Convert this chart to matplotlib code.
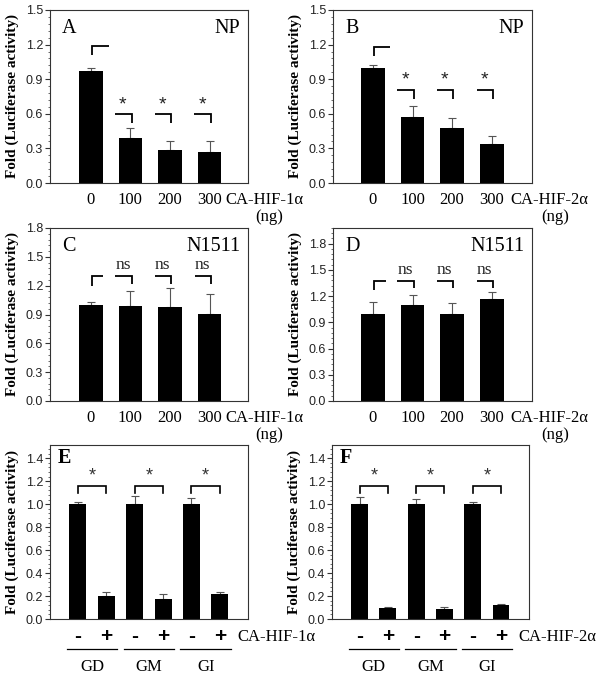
import matplotlib
matplotlib.use('Agg')
import matplotlib.pyplot as plt
from matplotlib.ticker import MultipleLocator, AutoMinorLocator, FormatStrFormatter
from matplotlib.transforms import offset_copy
import numpy as np

# ---------------- data ----------------
doses = ['0', '100', '200', '300']
a_vals = [0.97, 0.39, 0.29, 0.27]
a_err = [0.03, 0.09, 0.07, 0.09]
b_vals = [1.00, 0.57, 0.48, 0.34]
b_err = [0.025, 0.095, 0.085, 0.07]
c_vals = [1.00, 0.99, 0.98, 0.91]
c_err = [0.025, 0.15, 0.20, 0.20]
d_vals = [1.00, 1.10, 1.00, 1.17]
d_err = [0.135, 0.115, 0.125, 0.08]

groups = ['GD', 'GM', 'GI']
signs = ['-', '+', '-', '+', '-', '+']
e_vals = [1.00, 0.20, 1.00, 0.17, 1.00, 0.22]
e_err = [0.017, 0.035, 0.067, 0.05, 0.05, 0.012]
f_vals = [1.00, 0.10, 1.00, 0.09, 1.00, 0.125]
f_err = [0.064, 0.007, 0.045, 0.017, 0.023, 0.004]

# significance marks
a_marks = ['', '*', '*', '*']
b_marks = ['', '*', '*', '*']
c_marks = ['', 'ns', 'ns', 'ns']
d_marks = ['', 'ns', 'ns', 'ns']
ef_marks = ['*', '*', '*']

SERIF = ['Liberation Serif', 'DejaVu Serif']
SANS = ['Liberation Sans', 'DejaVu Sans']

W, H = 602, 678
fig = plt.figure(figsize=(W / 100, H / 100), dpi=100)


def px_axes(left, top, right, bottom):
    return fig.add_axes([left / W, 1 - bottom / H, (right - left) / W, (bottom - top) / H])


def style_axes(ax, ylim, major, ndiv=5):
    ax.set_ylim(0, ylim)
    ax.yaxis.set_major_locator(MultipleLocator(major))
    ax.yaxis.set_minor_locator(AutoMinorLocator(ndiv))
    ax.yaxis.set_major_formatter(FormatStrFormatter('%.1f'))
    ax.set_xticks([])
    for s in ax.spines.values():
        s.set_color('#333333')
        s.set_linewidth(0.8)
    ax.tick_params(axis='y', which='major', direction='out', length=3.5, width=0.8,
                   color='#333333', labelsize=9, pad=1.5, labelcolor='#222222')
    ax.tick_params(axis='y', which='minor', direction='out', length=1.8, width=0.6,
                   color='#555555')
    for lab in ax.get_yticklabels():
        lab.set_family(SANS)
    ax.set_ylabel('Fold (Luciferase activity)', fontsize=11, fontweight='bold',
                  family=SERIF)
    ax.yaxis.set_label_coords(-0.155, 0.5)


def draw_bars(ax, x, vals, err):
    ax.bar(x, vals, width=0.6, color='black', zorder=2)
    ax.errorbar(x, vals, yerr=[np.zeros(len(vals)), err], fmt='none', ecolor='#555555',
                elinewidth=0.8, capsize=2.6, capthick=0.8, zorder=1)


def half_brackets(ax, x, marks, y0, drop0, y1, drop1, first_len, others_len, mark_y,
                  mark_size, mark_family):
    lw = 1.3
    # first bar: left tick + line to the right
    ax.plot([x[0] + 0.02, x[0] + 0.02, x[0] + 0.02 + first_len],
            [y0 - drop0, y0, y0], color='black', lw=lw, solid_capstyle='butt',
            solid_joinstyle='miter', clip_on=False)
    for xi, m in zip(x[1:], marks[1:]):
        ax.plot([xi + 0.03 - others_len, xi + 0.03, xi + 0.03],
                [y1, y1, y1 - drop1], color='black', lw=lw, solid_capstyle='butt',
                solid_joinstyle='miter', clip_on=False)
        ax.text(xi + 0.03 - others_len / 2 - 0.01, mark_y, m, ha='center', va='center',
                fontsize=mark_size, family=mark_family, color='#222222')


def dose_labels(ax, x, label, name_dx, ng_dx):
    for xi, t in zip(x, doses):
        ax.annotate(t, xy=(xi, 0), xycoords=('data', 'axes fraction'),
                    xytext=(0, -17), textcoords='offset pixels', ha='center',
                    va='center', fontsize=12, family=SERIF, annotation_clip=False)
    ax.annotate(label, xy=(x[-1], 0), xycoords=('data', 'axes fraction'),
                xytext=(name_dx, -17), textcoords='offset pixels', ha='left',
                va='center', fontsize=12, family=SERIF, annotation_clip=False)
    ax.annotate('(ng)', xy=(x[-1], 0), xycoords=('data', 'axes fraction'),
                xytext=(ng_dx, -34), textcoords='offset pixels', ha='center',
                va='center', fontsize=12, family=SERIF, annotation_clip=False)


def panel_text(ax, letter, cell):
    ax.text(0.06, 0.95, letter, transform=ax.transAxes, ha='left', va='top',
            fontsize=14.5, family=SERIF)
    ax.text(0.962, 0.95, cell, transform=ax.transAxes, ha='right', va='top',
            fontsize=14.5, family=SERIF)


x4 = np.arange(len(doses))

# ---- Panel A ----
axA = px_axes(50, 10, 248, 183)
axA.set_xlim(-1.03, 3.97)
draw_bars(axA, x4, a_vals, a_err)
style_axes(axA, 1.5, 0.3)
half_brackets(axA, x4, a_marks, 1.19, 0.08, 0.60, 0.08, 0.44, 0.42, 0.68, 14, SANS)
panel_text(axA, 'A', 'NP')
dose_labels(axA, x4, 'CA-HIF-1\u03b1', 16, 60)

# ---- Panel B ----
axB = px_axes(333, 10, 532, 183)
axB.set_xlim(-1.01, 4.02)
draw_bars(axB, x4, b_vals, b_err)
style_axes(axB, 1.5, 0.3)
half_brackets(axB, x4, b_marks, 1.18, 0.08, 0.81, 0.08, 0.42, 0.41, 0.89, 14, SANS)
panel_text(axB, 'B', 'NP')
dose_labels(axB, x4, 'CA-HIF-2\u03b1', 19, 64)

# ---- Panel C ----
axC = px_axes(50, 228, 248, 401)
axC.set_xlim(-1.03, 3.97)
draw_bars(axC, x4, c_vals, c_err)
style_axes(axC, 1.8, 0.3)
half_brackets(axC, x4, c_marks, 1.30, 0.10, 1.30, 0.08, 0.30, 0.41, 1.41, 12.5, SERIF)
panel_text(axC, 'C', 'N1511')
dose_labels(axC, x4, 'CA-HIF-1\u03b1', 16, 60)

# ---- Panel D ----
axD = px_axes(333, 228, 532, 401)
axD.set_xlim(-1.01, 4.02)
draw_bars(axD, x4, d_vals, d_err)
style_axes(axD, 1.98, 0.3)
half_brackets(axD, x4, d_marks, 1.37, 0.095, 1.37, 0.08, 0.30, 0.41, 1.50, 12.5, SERIF)
panel_text(axD, 'D', 'N1511')
dose_labels(axD, x4, 'CA-HIF-2\u03b1', 19, 64)


# ---- Panels E, F ----
def group_panel(ax, vals, err, label, letter, name_dx):
    x6 = np.arange(len(vals))
    ax.set_xlim(-0.98, 5.99)
    draw_bars(ax, x6, vals, err)
    style_axes(ax, 1.515, 0.2)
    tr = offset_copy(ax.get_xaxis_transform(), fig=fig, x=0, y=-30, units='dots')
    for g in range(len(groups)):
        xl, xr = x6[2 * g], x6[2 * g + 1]
        yb = 1.16
        ax.plot([xl, xl, xr, xr], [yb - 0.06, yb, yb, yb - 0.06], color='black', lw=1.2,
                solid_joinstyle='miter', clip_on=False)
        ax.text((xl + xr) / 2, yb + 0.085, ef_marks[g], ha='center', va='center',
                fontsize=13, family=SANS, color='#333333')
        # underline and group name
        ax.plot([xl - 0.39, xr + 0.39], [0, 0], transform=tr, color='black', lw=0.9,
                clip_on=False)
        ax.annotate(groups[g], xy=((xl + xr) / 2, 0), xycoords=('data', 'axes fraction'),
                    xytext=(0, -48), textcoords='offset pixels', ha='center',
                    va='center', fontsize=12, family=SERIF, annotation_clip=False)
    for xi, s in zip(x6, signs):
        ax.annotate(s, xy=(xi, 0), xycoords=('data', 'axes fraction'),
                    xytext=(0, -18), textcoords='offset pixels', ha='center',
                    va='center', fontsize=15, fontweight='bold', family=SANS,
                    annotation_clip=False)
    ax.annotate(label, xy=(x6[-1], 0), xycoords=('data', 'axes fraction'),
                xytext=(name_dx, -18), textcoords='offset pixels', ha='left',
                va='center', fontsize=12, family=SERIF, annotation_clip=False)
    ax.text(0.04, 0.98, letter, transform=ax.transAxes, ha='left', va='top',
            fontsize=14.5, family=SERIF, fontweight='bold')


axE = px_axes(50, 445, 248, 619)
group_panel(axE, e_vals, e_err, 'CA-HIF-1\u03b1', 'E', 17)
axF = px_axes(332, 445, 529, 619)
group_panel(axF, f_vals, f_err, 'CA-HIF-2\u03b1', 'F', 17)

fig.savefig('out.png', dpi=100)
